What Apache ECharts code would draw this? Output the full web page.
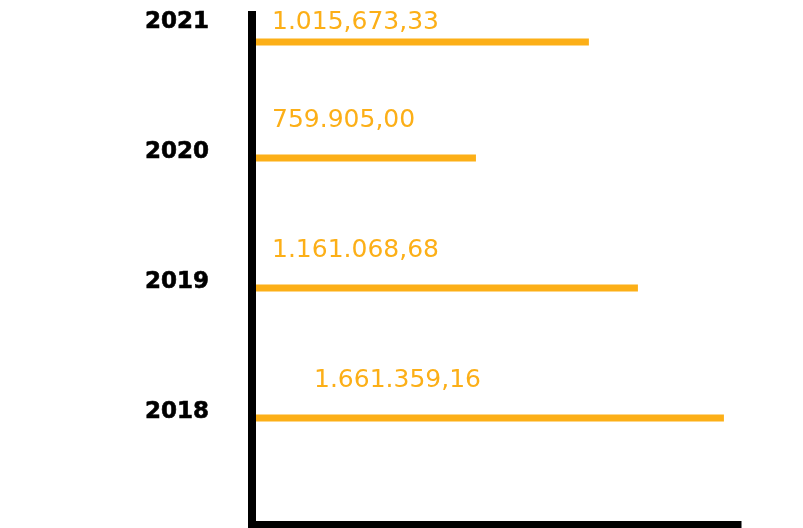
<!DOCTYPE html>
<html>
<head>
<meta charset="utf-8">
<script src="https://cdn.jsdelivr.net/npm/echarts@6/dist/echarts.min.js"></script>
<style>
html,body{margin:0;padding:0;background:#fff;}
#chart{width:803px;height:528px;}
</style>
</head>
<body>
<div id="chart"></div>
<script>
// ---- data ----
const years = ['2018', '2019', '2020', '2021'];
const amounts = [1661359.16, 1161068.68, 759905.00, 1015673.33];
const amountLabels = ['1.661.359,16', '1.161.068,68', '759.905,00', '1.015,673,33'];
// drawn bar lengths (same units as the amounts)
const barLengths = [1661359.16, 1358600, 788400, 1186000];

// ---- style ----
const ORANGE = '#FCAF17';
const barShift = [6, 6, 6, 20];        // px, bar centre relative to category centre
const labelShift = [-32, -32, -32, 0];  // px, label centre relative to category centre
const labelIndent = [62, 20, 20, 20];   // px, label start from axis

const chart = echarts.init(document.getElementById('chart'));
chart.setOption({
  animation: false,
  backgroundColor: '#fff',
  grid: [
    { left: 252, width: 490, top: -43, height: 520, containLabel: false, outerBoundsMode: 'none' },
    { left: 252, width: 486, top: 15, bottom: 3.5, containLabel: false, outerBoundsMode: 'none' }
  ],
  xAxis: [
    { gridIndex: 0, type: 'value', min: 0, max: 1725000, show: false },
    { gridIndex: 1, type: 'value', min: 0, max: 1, z: 10,
      axisLine: { show: true, onZero: false, lineStyle: { color: '#000', width: 7, cap: 'square' } },
      axisTick: { show: false }, axisLabel: { show: false }, splitLine: { show: false } }
  ],
  yAxis: [
    { gridIndex: 0, type: 'category', data: years,
      axisLine: { show: false }, axisTick: { show: false }, splitLine: { show: false },
      axisLabel: { margin: 43, color: '#000', fontFamily: 'DejaVu Sans', fontWeight: 'bold', fontSize: 23,
        padding: [4, 0, 0, 0], textBorderColor: '#000', textBorderWidth: 0.6 } },
    { gridIndex: 1, type: 'value', min: 0, max: 1, z: 10,
      axisLine: { show: true, onZero: false, lineStyle: { color: '#000', width: 8, cap: 'square' } },
      axisTick: { show: false }, axisLabel: { show: false }, splitLine: { show: false } }
  ],
  series: [{
    type: 'custom',
    xAxisIndex: 0, yAxisIndex: 0,
    data: years.map((y, i) => [barLengths[i], i, amounts[i]]),
    renderItem: function (params, api) {
      const i = params.dataIndex;
      const cat = api.value(1);
      const p0 = api.coord([0, cat]);
      const p1 = api.coord([api.value(0), cat]);
      return {
        type: 'group',
        children: [
          { type: 'rect',
            shape: { x: p0[0], y: p0[1] + barShift[i] - 3.5, width: p1[0] - p0[0], height: 7 },
            style: { fill: ORANGE } },
          { type: 'text',
            style: { text: amountLabels[i], x: p0[0] + labelIndent[i], y: p0[1] + labelShift[i],
              align: 'left', verticalAlign: 'middle', fill: ORANGE,
              font: 'normal 25px "DejaVu Sans"' } }
        ]
      };
    }
  }]
});
</script>
</body>
</html>
